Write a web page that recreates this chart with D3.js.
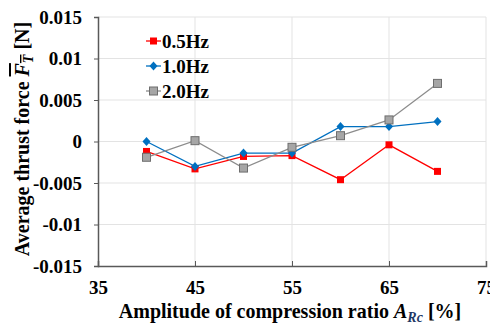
<!DOCTYPE html>
<html lang="en">
<head>
<meta charset="UTF-8">
<title>Average thrust force</title>
<script src="https://d3js.org/d3.v7.min.js"></script>
<style>
  body { margin: 0; background: #fff; }
  svg { display: block; }
</style>
</head>
<body>
<svg id="chart" width="490" height="325"></svg>
<script>
// data
const amplitudes = [40, 45, 50, 55, 60, 65, 70];
const f05 = [-0.0012, -0.0033, -0.0018, -0.0017, -0.0046, -0.0004, -0.0036];
const f10 = [0.0, -0.0030, -0.0014, -0.0014, 0.0018, 0.0018, 0.0024];
const f20 = [-0.0019, 0.0001, -0.0032, -0.0007, 0.0007, 0.0026, 0.0070];
const xTicks = [35, 45, 55, 65, 75];
const yTicks = [-0.015, -0.01, -0.005, 0, 0.005, 0.01, 0.015];

const series = [
  { name: "0.5Hz", values: f05, color: "#ff0000", marker: "square" },
  { name: "1.0Hz", values: f10, color: "#0070c0", marker: "diamond" },
  { name: "2.0Hz", values: f20, color: "#8c8c8c", marker: "graysq" }
];

const FONT = "'Liberation Serif', 'Times New Roman', serif";
const FS = 19;

const svg = d3.select("#chart");
const margin = { left: 98, right: 4, top: 17, bottom: 59 };
const W = 490, H = 325;

const x = d3.scaleLinear().domain([35, 75]).range([margin.left, W - margin.right]);
const y = d3.scaleLinear().domain([-0.015, 0.015]).range([H - margin.bottom, margin.top]);

// grid
svg.append("g").selectAll("line.h")
  .data(yTicks.filter(d => d !== -0.015))
  .enter().append("line")
  .attr("x1", x(35)).attr("x2", x(75))
  .attr("y1", d => y(d)).attr("y2", d => y(d))
  .attr("stroke", "#e3e3e3").attr("stroke-width", 1);

svg.append("g").selectAll("line.v")
  .data(xTicks.filter(d => d !== 35))
  .enter().append("line")
  .attr("x1", d => x(d)).attr("x2", d => x(d))
  .attr("y1", y(-0.015)).attr("y2", y(0.015))
  .attr("stroke", "#e3e3e3").attr("stroke-width", 1);

// axes
const fmtY = d => d === 0 ? "0" : String(+d.toFixed(3));
const yAxis = svg.append("g")
  .attr("transform", `translate(${x(35)},0)`)
  .call(d3.axisLeft(y).tickValues(yTicks).tickSize(4).tickPadding(12).tickFormat(fmtY));
yAxis.select(".domain").attr("stroke", "#595959").attr("stroke-width", 1.5);
yAxis.selectAll(".tick line").attr("stroke", "#595959");
yAxis.selectAll("text").style("font-family", FONT).style("font-weight", "bold")
  .style("font-size", FS + "px").attr("fill", "#000").attr("dy", "0.34em");

const xAxis = svg.append("g")
  .attr("transform", `translate(0,${y(-0.015)})`)
  .call(d3.axisBottom(x).tickValues(xTicks).tickSize(-5).tickPadding(15).tickFormat(d3.format("d")));
xAxis.select(".domain").attr("stroke", "#595959").attr("stroke-width", 1.5);
xAxis.selectAll(".tick line").attr("stroke", "#595959");
xAxis.selectAll("text").style("font-family", FONT).style("font-weight", "bold")
  .style("font-size", FS + "px").attr("fill", "#000");

// lines and markers
const line = d3.line().x((d, i) => x(amplitudes[i])).y(d => y(d));

function drawMarker(g, kind, cx, cy, color) {
  if (kind === "square") {
    g.append("rect").attr("x", cx - 3.5).attr("y", cy - 3.5).attr("width", 7).attr("height", 7)
      .attr("fill", color);
  } else if (kind === "diamond") {
    g.append("path").attr("d", `M${cx},${cy - 4.5}L${cx + 4},${cy}L${cx},${cy + 4.5}L${cx - 4},${cy}Z`)
      .attr("fill", color);
  } else {
    g.append("rect").attr("x", cx - 4).attr("y", cy - 4).attr("width", 8).attr("height", 8)
      .attr("fill", "#a6a6a6").attr("stroke", "#6e6e6e").attr("stroke-width", 1);
  }
}

series.forEach(s => {
  svg.append("path").datum(s.values)
    .attr("d", line).attr("fill", "none")
    .attr("stroke", s.color).attr("stroke-width", 1.3);
});
series.forEach(s => {
  const g = svg.append("g");
  s.values.forEach((v, i) => drawMarker(g, s.marker, x(amplitudes[i]), y(v), s.color));
});

function label(sel, size) {
  return sel.style("font-family", FONT).style("font-weight", "bold")
    .style("font-size", (size || FS) + "px").attr("fill", "#000");
}

// legend
const leg = svg.append("g");
series.forEach((s, i) => {
  const ly = 41 + i * 25;
  leg.append("line").attr("x1", 146).attr("x2", 161).attr("y1", ly).attr("y2", ly)
    .attr("stroke", s.color).attr("stroke-width", 1.3);
  drawMarker(leg, s.marker, 153.5, ly, s.color);
  label(leg.append("text")).attr("x", 162).attr("y", ly + 6.5).text(s.name);
});

// axis titles
const xt = label(svg.append("text"), 20).attr("x", 290).attr("y", 318).attr("text-anchor", "middle");
xt.append("tspan").text("Amplitude of compression ratio ");
xt.append("tspan").style("font-style", "italic").text("A");
xt.append("tspan").style("font-style", "italic").style("font-size", "14px").attr("dy", 4).attr("fill", "#1f3864").text("Rc");
xt.append("tspan").attr("dy", -4).text(" [%]");

const yt = label(svg.append("text"), 20).attr("transform", "translate(29,139) rotate(-90)")
  .attr("text-anchor", "middle");
yt.append("tspan").text("Average thrust force ");
yt.append("tspan").style("font-style", "italic").style("text-decoration", "overline").text("F");
yt.append("tspan").style("font-style", "italic").style("font-size", "14px").attr("dy", 4).style("text-decoration", "overline").text("T");
yt.append("tspan").attr("dy", -4).text(" [N]");
</script>
</body>
</html>
